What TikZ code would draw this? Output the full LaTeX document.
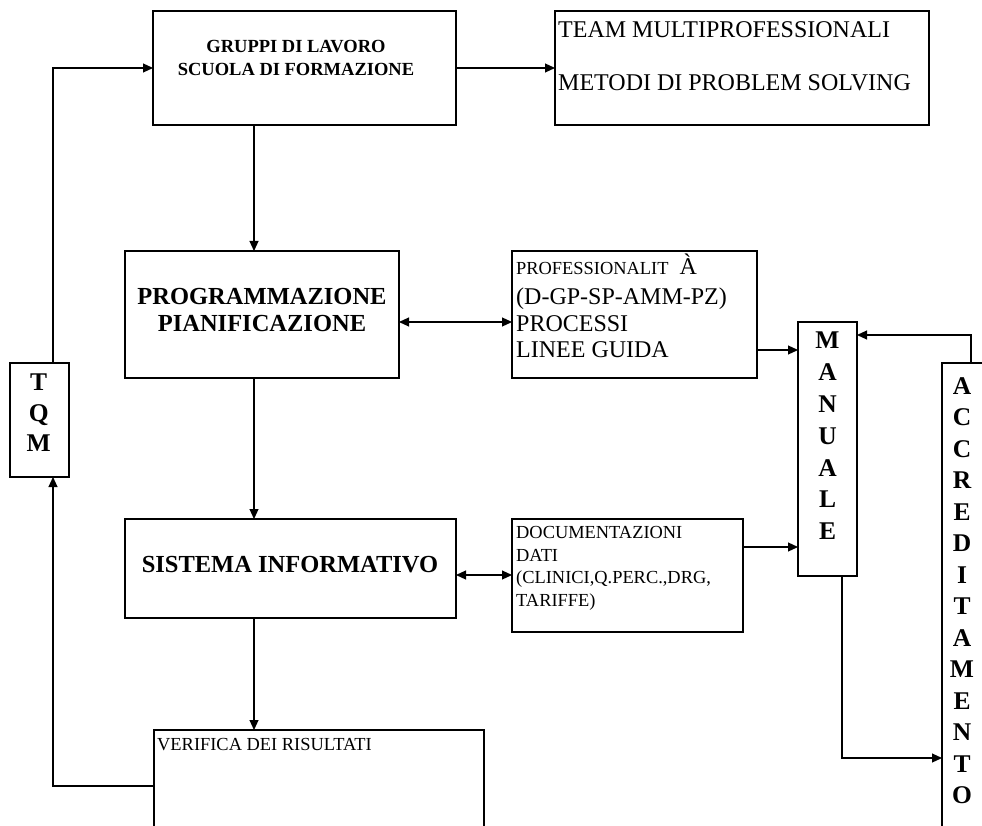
\documentclass[tikz,border=0pt]{standalone}
\usepackage{fontspec}
\setmainfont{Liberation Serif}
\usetikzlibrary{arrows.meta}
\begin{document}
\begin{tikzpicture}[x=1pt,y=-1pt,
  box/.style={draw, line width=1.2pt, inner sep=0pt, outer sep=0pt, anchor=north west},
  tip/.tip={Triangle[length=10pt,width=9pt]},
  arr/.style={line width=1.1pt, -tip},
  dblarr/.style={line width=1.1pt, tip-tip},
  txt/.style={inner sep=0pt, anchor=base west},
  ctxt/.style={inner sep=0pt, anchor=base},
  column/.style={inner sep=0pt, anchor=north, align=center},
  bigbf/.style={font=\bfseries\fontsize{24.5}{26}\selectfont},
  midbf/.style={font=\bfseries\fontsize{18.5}{23}\selectfont},
  regbig/.style={font=\fontsize{24}{26}\selectfont},
  regmid/.style={font=\fontsize{18.4}{22}\selectfont},
]
\useasboundingbox (0,0) rectangle (982,826);
\clip (0,0) rectangle (982,826);

% boxes
\node[box, minimum width=303pt, minimum height=114pt] (gruppi) at (153,11) {};
\node[box, minimum width=374pt, minimum height=114pt] (team) at (555,11) {};
\node[box, minimum width=274pt, minimum height=127pt] (prog) at (125,251) {};
\node[box, minimum width=245pt, minimum height=127pt] (prof) at (512,251) {};
\node[box, minimum width=59pt, minimum height=254pt] (manuale) at (798,322) {};
\node[box, minimum width=60pt, minimum height=480pt] (accred) at (942,363) {};
\node[box, minimum width=59pt, minimum height=114pt] (tqm) at (10,363) {};
\node[box, minimum width=331pt, minimum height=99pt] (sistema) at (125,519) {};
\node[box, minimum width=231pt, minimum height=113pt] (doc) at (512,519) {};
\node[box, minimum width=330pt, minimum height=110pt] (verifica) at (154,730) {};

% texts
\node[ctxt, midbf] (g1) at (296,53) {GRUPPI DI LAVORO};
\node[ctxt, midbf] (g2) at (296,76) {SCUOLA DI FORMAZIONE};

\node[txt, regbig] (t1) at (558,38) {TEAM MULTIPROFESSIONALI};
\node[txt, regbig] (t2) at (558,91) {METODI DI PROBLEM SOLVING};

\node[ctxt, bigbf] (p1) at (262,305) {PROGRAMMAZIONE};
\node[ctxt, bigbf] (p2) at (262,331) {PIANIFICAZIONE};

\node[txt, regmid] (f1) at (516,275) {PROFESSIONALIT\hspace{11pt}{\fontsize{24}{26}\selectfont À}};
\node[txt, regbig] (f2) at (516,305) {(D-GP-SP-AMM-PZ)};
\node[txt, regbig] (f3) at (516,331) {PROCESSI};
\node[txt, regbig] (f4) at (516,357) {LINEE GUIDA};

\node[ctxt, bigbf] (s1) at (290,572) {SISTEMA INFORMATIVO};

\node[txt, regmid] (d1) at (516,538) {DOCUMENTAZIONI};
\node[txt, regmid] (d2) at (516,561) {DATI};
\node[txt, regmid] (d3) at (516,583) {(CLINICI,Q.PERC.,DRG,};
\node[txt, regmid] (d4) at (516,606) {TARIFFE)};

\node[txt, regmid] (v1) at (157,750) {VERIFICA DEI RISULTATI};

\node[column, font=\bfseries\fontsize{25.5}{30.5}\selectfont] (tqmtxt) at (38.7,374) {T\\Q\\M};
\node[column, font=\bfseries\fontsize{25.5}{31.8}\selectfont] (mantxt) at (827.5,332) {M\\A\\N\\U\\A\\L\\E};
\node[column, font=\bfseries\fontsize{25.5}{31.5}\selectfont] (acctxt) at (962,377) {A\\C\\C\\R\\E\\D\\I\\T\\A\\M\\E\\N\\T\\O};

% routing coordinates
\coordinate (loopx) at (53,0);
\coordinate (spine) at (254,0);
\coordinate (vfy) at (0,786);
\coordinate (r1) at (0,322);
\coordinate (r2) at (0,350);
\coordinate (r3) at (0,575);
\coordinate (r4) at (0,547);
\coordinate (mx) at (842,0);
\coordinate (r5) at (0,758);
\coordinate (ax) at (971,0);
\coordinate (r6) at (0,335);

% connectors
\draw[arr] (tqm.north -| loopx) |- (gruppi.west);
\draw[arr] (verifica.west |- vfy) -| (tqm.south -| loopx);
\draw[arr] (gruppi.east) -- (team.west);
\draw[arr] (gruppi.south -| spine) -- (prog.north -| spine);
\draw[arr] (prog.south -| spine) -- (sistema.north -| spine);
\draw[arr] (sistema.south -| spine) -- (verifica.north -| spine);
\draw[dblarr] (prog.east |- r1) -- (prof.west |- r1);
\draw[arr] (prof.east |- r2) -- (manuale.west |- r2);
\draw[dblarr] (sistema.east |- r3) -- (doc.west |- r3);
\draw[arr] (doc.east |- r4) -- (manuale.west |- r4);
\draw[arr] (manuale.south -| mx) |- (accred.west |- r5);
\draw[arr] (accred.north -| ax) |- (manuale.east |- r6);
\end{tikzpicture}
\end{document}
